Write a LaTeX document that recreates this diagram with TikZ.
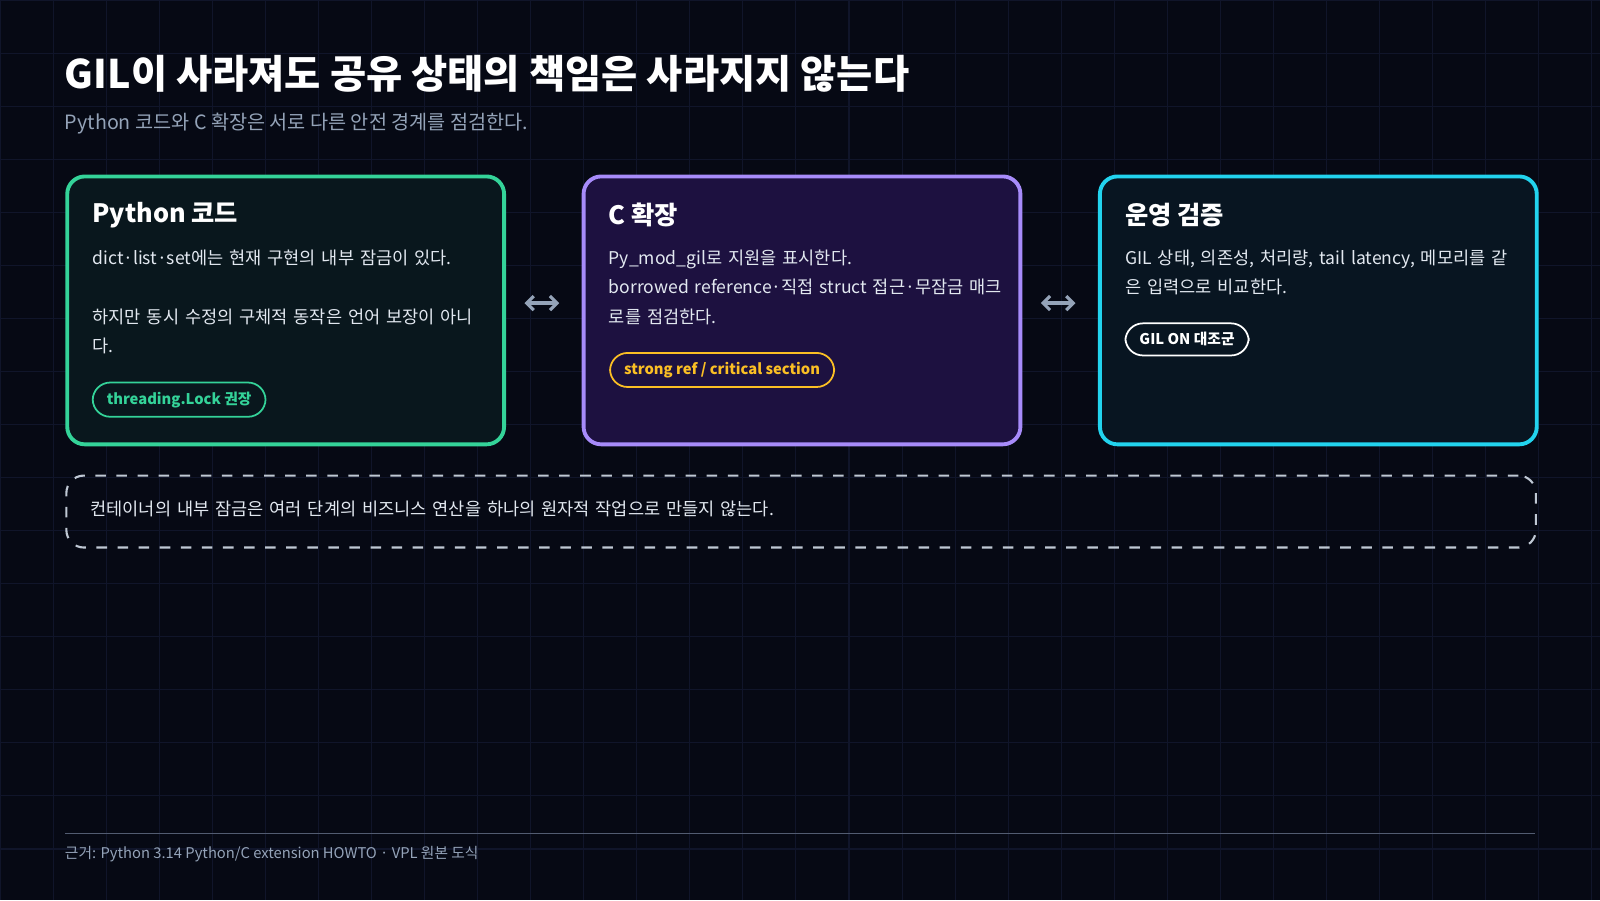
\documentclass[tikz,border=0pt]{standalone}
\usepackage{fontspec}
\setmainfont{Noto Sans CJK KR}
\usetikzlibrary{arrows.meta,positioning}
\definecolor{bgc}{HTML}{060914}
\definecolor{gridc}{HTML}{10152A}
\definecolor{greenc}{HTML}{34D399}
\definecolor{purplec}{HTML}{A78BFA}
\definecolor{purplefill}{HTML}{1D1140}
\definecolor{cyanc}{HTML}{22D3EE}
\definecolor{yellowc}{HTML}{FBBF24}
\definecolor{subc}{HTML}{94A3B8}
\definecolor{textc}{HTML}{E2E8F0}
\tikzset{
  card/.style={draw=#1, line width=1.1pt, rounded corners=5pt, anchor=north west,
    minimum width=4.37cm, minimum height=2.68cm},
  body/.style={anchor=north west, text=textc, font=\fontsize{5.0}{8.4}\selectfont,
    text width=4.2cm, align=left, inner sep=0pt},
  head/.style={anchor=north west, text=white, font=\fontsize{7.2}{9}\selectfont\bfseries, inner sep=0pt},
  pill/.style={draw=#1, text=#1, rounded corners=5pt, line width=0.5pt,
    font=\fontsize{4.2}{5}\selectfont\bfseries, inner xsep=4pt, inner ysep=2.6pt, anchor=north west},
  link/.style={{Straight Barb[length=2pt]}-{Straight Barb[length=2pt]}, draw=subc, line width=0.9pt}
}
\begin{document}
\begin{tikzpicture}[x=0.010204cm,y=-0.010204cm]
  % background
  \fill[bgc] (0,0) rectangle (1568,882);
  \useasboundingbox (0,0) rectangle (1568,882);
  \foreach \g in {0,52,...,1568} \draw[gridc, line width=0.3pt] (\g,0) -- (\g,882);
  \foreach \g in {0,52,...,882} \draw[gridc, line width=0.3pt] (0,\g) -- (1568,\g);

  % title
  \node[anchor=west, text=white, inner sep=0pt, font=\fontsize{11.2}{13}\selectfont\bfseries]
    (title) at (63,72) {GIL이 사라져도 공유 상태의 책임은 사라지지 않는다};
  \node[anchor=west, text=subc, inner sep=0pt, font=\fontsize{5.6}{7}\selectfont]
    (subtitle) at (63,121) {Python 코드와 C 확장은 서로 다른 안전 경계를 점검한다.};

  % cards
  \node[card=greenc, fill=greenc!7!bgc] (py) at (64,171) {};
  \node[card=purplec, fill=purplefill] (cext) at (570,171) {};
  \node[card=cyanc, fill=cyanc!6!bgc] (ops) at (1076,171) {};

  \node[head] (pyh) at (90,198) {Python 코드};
  \node[body] (pyb) at (90,244) {dict·list·set에는 현재 구현의 내부 잠금이 있다.\\[8.4pt]
    하지만 동시 수정의 구체적 동작은 언어 보장이 아니\\다.};
  \node[pill=greenc] (pyp) at (90,374) {threading.Lock 권장};

  \node[head] (ch) at (596,198) {C 확장};
  \node[body] (cb) at (596,244) {Py\_mod\_gil로 지원을 표시한다.\\
    borrowed reference·직접 struct 접근·무잠금 매크\\로를 점검한다.};
  \node[pill=yellowc] (cp) at (597,345) {strong ref / critical section};

  \node[head] (oh) at (1102,198) {운영 검증};
  \node[body] (ob) at (1102,244) {GIL 상태, 의존성, 처리량, tail latency, 메모리를 같\\은 입력으로 비교한다.};
  \node[pill=white] (op) at (1102,316) {GIL ON 대조군};

  % links
  \coordinate (a1) at (514,297); \coordinate (a2) at (548,297);
  \coordinate (b1) at (1020,297); \coordinate (b2) at (1054,297);
  \draw[link] (a1) -- (a2);
  \draw[link] (b1) -- (b2);

  % note
  \node[draw=subc!60, dashed, line width=0.6pt, rounded corners=5pt, anchor=north west,
    minimum width=14.7cm, minimum height=0.72cm] (note) at (64,465) {};
  \node[body, anchor=west, text width=12cm] (notet) at (88,499)
    {컨테이너의 내부 잠금은 여러 단계의 비즈니스 연산을 하나의 원자적 작업으로 만들지 않는다.};

  % footer
  \coordinate (f1) at (64,817); \coordinate (f2) at (1504,817);
  \draw[gridc!50!subc, line width=0.4pt] (f1) -- (f2);
  \node[anchor=west, text=subc, inner sep=0pt, font=\fontsize{4.2}{5}\selectfont]
    (foot) at (63,837) {근거: Python 3.14 Python/C extension HOWTO · VPL 원본 도식};
\end{tikzpicture}
\end{document}
